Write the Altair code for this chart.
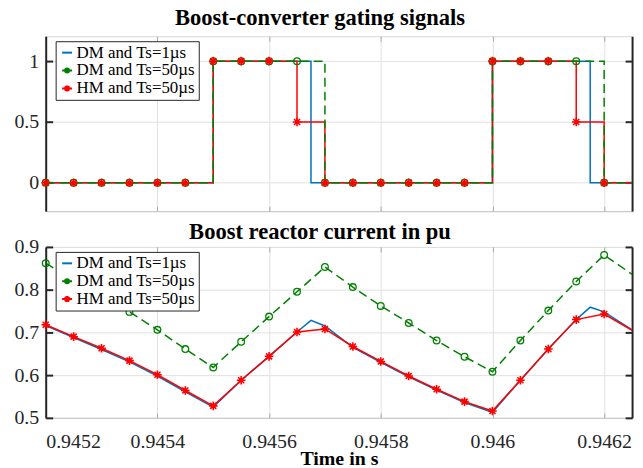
import altair as alt
import pandas as pd

SERIES = ["DM and Ts=1µs", "DM and Ts=50µs", "HM and Ts=50µs"]
COLORS = ["#0072BD", "#008000", "#FF0000"]

# 50 µs sampling instants (last entry = right edge of the window)
t50 = [0.9452, 0.94525, 0.9453, 0.94535, 0.9454, 0.94545, 0.9455, 0.94555, 0.9456,
       0.94565, 0.9457, 0.94575, 0.9458, 0.94585, 0.9459, 0.94595, 0.946, 0.94605,
       0.9461, 0.94615, 0.9462, 0.94625]
is_sample = [True] * 21 + [False]

# gating signals
gate_dm50 = [0, 0, 0, 0, 0, 0, 1, 1, 1, 1, 0, 0, 0, 0, 0, 0, 1, 1, 1, 1, 0, 0]
gate_hm50 = [0, 0, 0, 0, 0, 0, 1, 1, 1, 0.5, 0, 0, 0, 0, 0, 0, 1, 1, 1, 0.5, 0, 0]
t1_gate = [0.9452, 0.9455, 0.945675, 0.946, 0.946175, 0.94625]
gate_dm1 = [0, 1, 0, 1, 0, 0]

# boost reactor current (pu)
cur_dm50 = [0.862, 0.822, 0.785, 0.748, 0.706, 0.661, 0.618, 0.678, 0.737, 0.795,
            0.853, 0.806, 0.762, 0.722, 0.681, 0.643, 0.608, 0.681, 0.751, 0.819,
            0.881, 0.836]
cur_hm50 = [0.718, 0.690, 0.663, 0.634, 0.601, 0.564, 0.528, 0.588, 0.644, 0.701,
            0.708, 0.667, 0.632, 0.598, 0.567, 0.538, 0.516, 0.588, 0.661, 0.730,
            0.743, 0.705]
t1_cur = [0.9452, 0.94525, 0.9453, 0.94535, 0.9454, 0.94545, 0.9455, 0.94555, 0.9456,
          0.94565, 0.945675, 0.9457, 0.94575, 0.9458, 0.94585, 0.9459, 0.94595, 0.946,
          0.94605, 0.9461, 0.94615, 0.946175, 0.9462, 0.94625]
cur_dm1 = [0.716, 0.688, 0.660, 0.631, 0.598, 0.561, 0.525, 0.588, 0.644, 0.701,
           0.728, 0.715, 0.665, 0.630, 0.596, 0.565, 0.536, 0.513, 0.588, 0.661,
           0.730, 0.759, 0.748, 0.706]

X_TICKS = [0.9452, 0.9454, 0.9456, 0.9458, 0.946, 0.9462]
X_DOMAIN = [0.9452, 0.94625]

FONT = "Liberation Serif"
STAR = "M-1,0L1,0M0,-1L0,1M-0.7,-0.7L0.7,0.7M-0.7,0.7L0.7,-0.7"
LEG_SHAPES = [
    "M-1,0L1,0",
    "M-1,0L1,0M0.4,0A0.4,0.4,0,1,1,-0.4,0A0.4,0.4,0,1,1,0.4,0",
    "M-1,0L1,0M0,-0.6L0,0.6M-0.45,-0.45L0.45,0.45M-0.45,0.45L0.45,-0.45",
]
GRID = "#e1e1e1"
DARK = "#262626"
LIGHT = "#c8c8c8"


def panel(t_fine, v_fine, v_dm50, v_hm50, y_domain, y_ticks, title, step, bottom,
          height, title_offset):
    fine = pd.DataFrame({"t": t_fine, "v": v_fine})
    dm = pd.DataFrame({"t": t50, "v": v_dm50, "m": is_sample})
    hm = pd.DataFrame({"t": t50, "v": v_hm50, "m": is_sample})
    xs = alt.Scale(domain=X_DOMAIN, nice=False, zero=False)
    ys = alt.Scale(domain=y_domain, nice=False, zero=False)
    interp = "step-after" if step else "linear"

    ax_x_main = alt.Axis(values=X_TICKS, format="~g", labels=bottom, ticks=False,
                         domain=True, domainColor=LIGHT, domainWidth=1, grid=True,
                         gridColor=GRID, title="Time in s" if bottom else None,
                         labelFont=FONT, labelFontSize=20, labelColor=DARK,
                         labelPadding=14, titleFont=FONT, titleFontSize=20,
                         titleFontWeight="bold", titleColor="black", titlePadding=-3)
    ax_x_bot = alt.Axis(values=X_TICKS, orient="bottom", offset=-5, tickSize=5,
                        tickColor="#aaaaaa", labels=False, domain=False, grid=False,
                        title=None)
    ax_x_top = alt.Axis(values=X_TICKS, orient="top", offset=-5, tickSize=5,
                        tickColor="#aaaaaa", labels=False, domain=False, grid=False,
                        title=None)
    ax_y_main = alt.Axis(values=y_ticks, format="~g", orient="left", ticks=False,
                         domain=True, domainColor=DARK, domainWidth=2, grid=True,
                         gridColor=GRID, title=None, labelFont=FONT, labelFontSize=20,
                         labelColor=DARK, labelPadding=7)
    ax_y_tl = alt.Axis(values=y_ticks, orient="left", offset=-7, tickSize=7,
                       tickColor=DARK, tickWidth=2, labels=False, domain=False,
                       grid=False, title=None)
    ax_y_r = alt.Axis(values=y_ticks, orient="right", ticks=False, labels=False,
                      domain=True, domainColor=DARK, domainWidth=2, grid=False,
                      title=None)
    ax_y_tr = alt.Axis(values=y_ticks, orient="right", offset=-7, tickSize=7,
                       tickColor=DARK, tickWidth=2, labels=False, domain=False,
                       grid=False, title=None)

    blue = alt.Chart(fine).mark_line(color=COLORS[0], strokeWidth=1.5,
                                     interpolate=interp).encode(
        x=alt.X("t:Q", scale=xs, axis=ax_x_main),
        y=alt.Y("v:Q", scale=ys, axis=ax_y_main))
    red = alt.Chart(hm).mark_line(color=COLORS[2], strokeWidth=1.5,
                                  interpolate=interp).encode(
        x=alt.X("t:Q", scale=xs, axis=ax_x_bot),
        y=alt.Y("v:Q", scale=ys, axis=ax_y_tl))
    green = alt.Chart(dm).mark_line(color=COLORS[1], strokeWidth=1.5, strokeDash=[9, 5],
                                    interpolate=interp).encode(
        x=alt.X("t:Q", scale=xs, axis=ax_x_top),
        y=alt.Y("v:Q", scale=ys, axis=ax_y_r))
    green_pts = alt.Chart(dm).transform_filter("datum.m").mark_point(
        shape="circle", size=45, color=COLORS[1], strokeWidth=1.3, filled=False,
        opacity=1).encode(
        x=alt.X("t:Q", scale=xs, axis=None),
        y=alt.Y("v:Q", scale=ys, axis=ax_y_tr))
    red_pts = alt.Chart(hm).transform_filter("datum.m").mark_point(
        shape=STAR, size=75, color=COLORS[2], strokeWidth=1.6, filled=False,
        opacity=1).encode(
        x=alt.X("t:Q", scale=xs, axis=None),
        y=alt.Y("v:Q", scale=ys, axis=None))

    leg = alt.Legend(title=None, orient="none", legendX=10, legendY=5,
                     fillColor="white", strokeColor=DARK, padding=3,
                     labelFont=FONT, labelFontSize=17, labelColor="black",
                     symbolSize=100, symbolStrokeWidth=2, symbolOpacity=1,
                     rowPadding=0, labelOffset=1, labelLimit=400)
    legend_layer = alt.Chart(pd.DataFrame({"series": SERIES})).mark_point(
        opacity=0, filled=False).encode(
        color=alt.Color("series:N", scale=alt.Scale(domain=SERIES, range=COLORS),
                        legend=leg),
        shape=alt.Shape("series:N", scale=alt.Scale(domain=SERIES, range=LEG_SHAPES),
                        legend=leg))

    return alt.layer(blue, red, green, green_pts, red_pts, legend_layer).resolve_axis(
        x="independent", y="independent").properties(
        width=590, height=height,
        title=alt.TitleParams(title, font=FONT, fontSize=22.7, fontWeight="bold",
                              color="black", anchor="middle", frame="group",
                              dx=-19, offset=title_offset))


top = panel(t1_gate, gate_dm1, gate_dm50, gate_hm50, [-0.233, 1.205], [0, 0.5, 1],
            "Boost-converter gating signals", True, False, 176, 6)
bot = panel(t1_cur, cur_dm1, cur_dm50, cur_hm50, [0.5, 0.9],
            [0.5, 0.6, 0.7, 0.8, 0.9], "Boost reactor current in pu", False, True, 172,
            -7)

chart = alt.vconcat(top, bot, spacing=8).resolve_scale(
    color="independent", shape="independent").resolve_legend(
    color="independent", shape="independent").properties(
    padding={"left": 13, "top": 5, "right": 7, "bottom": 0},
    background="white").configure_view(stroke="#d6d6d6", strokeWidth=1)

chart.save("out.html", embed_options={"renderer": "svg", "actions": False})
